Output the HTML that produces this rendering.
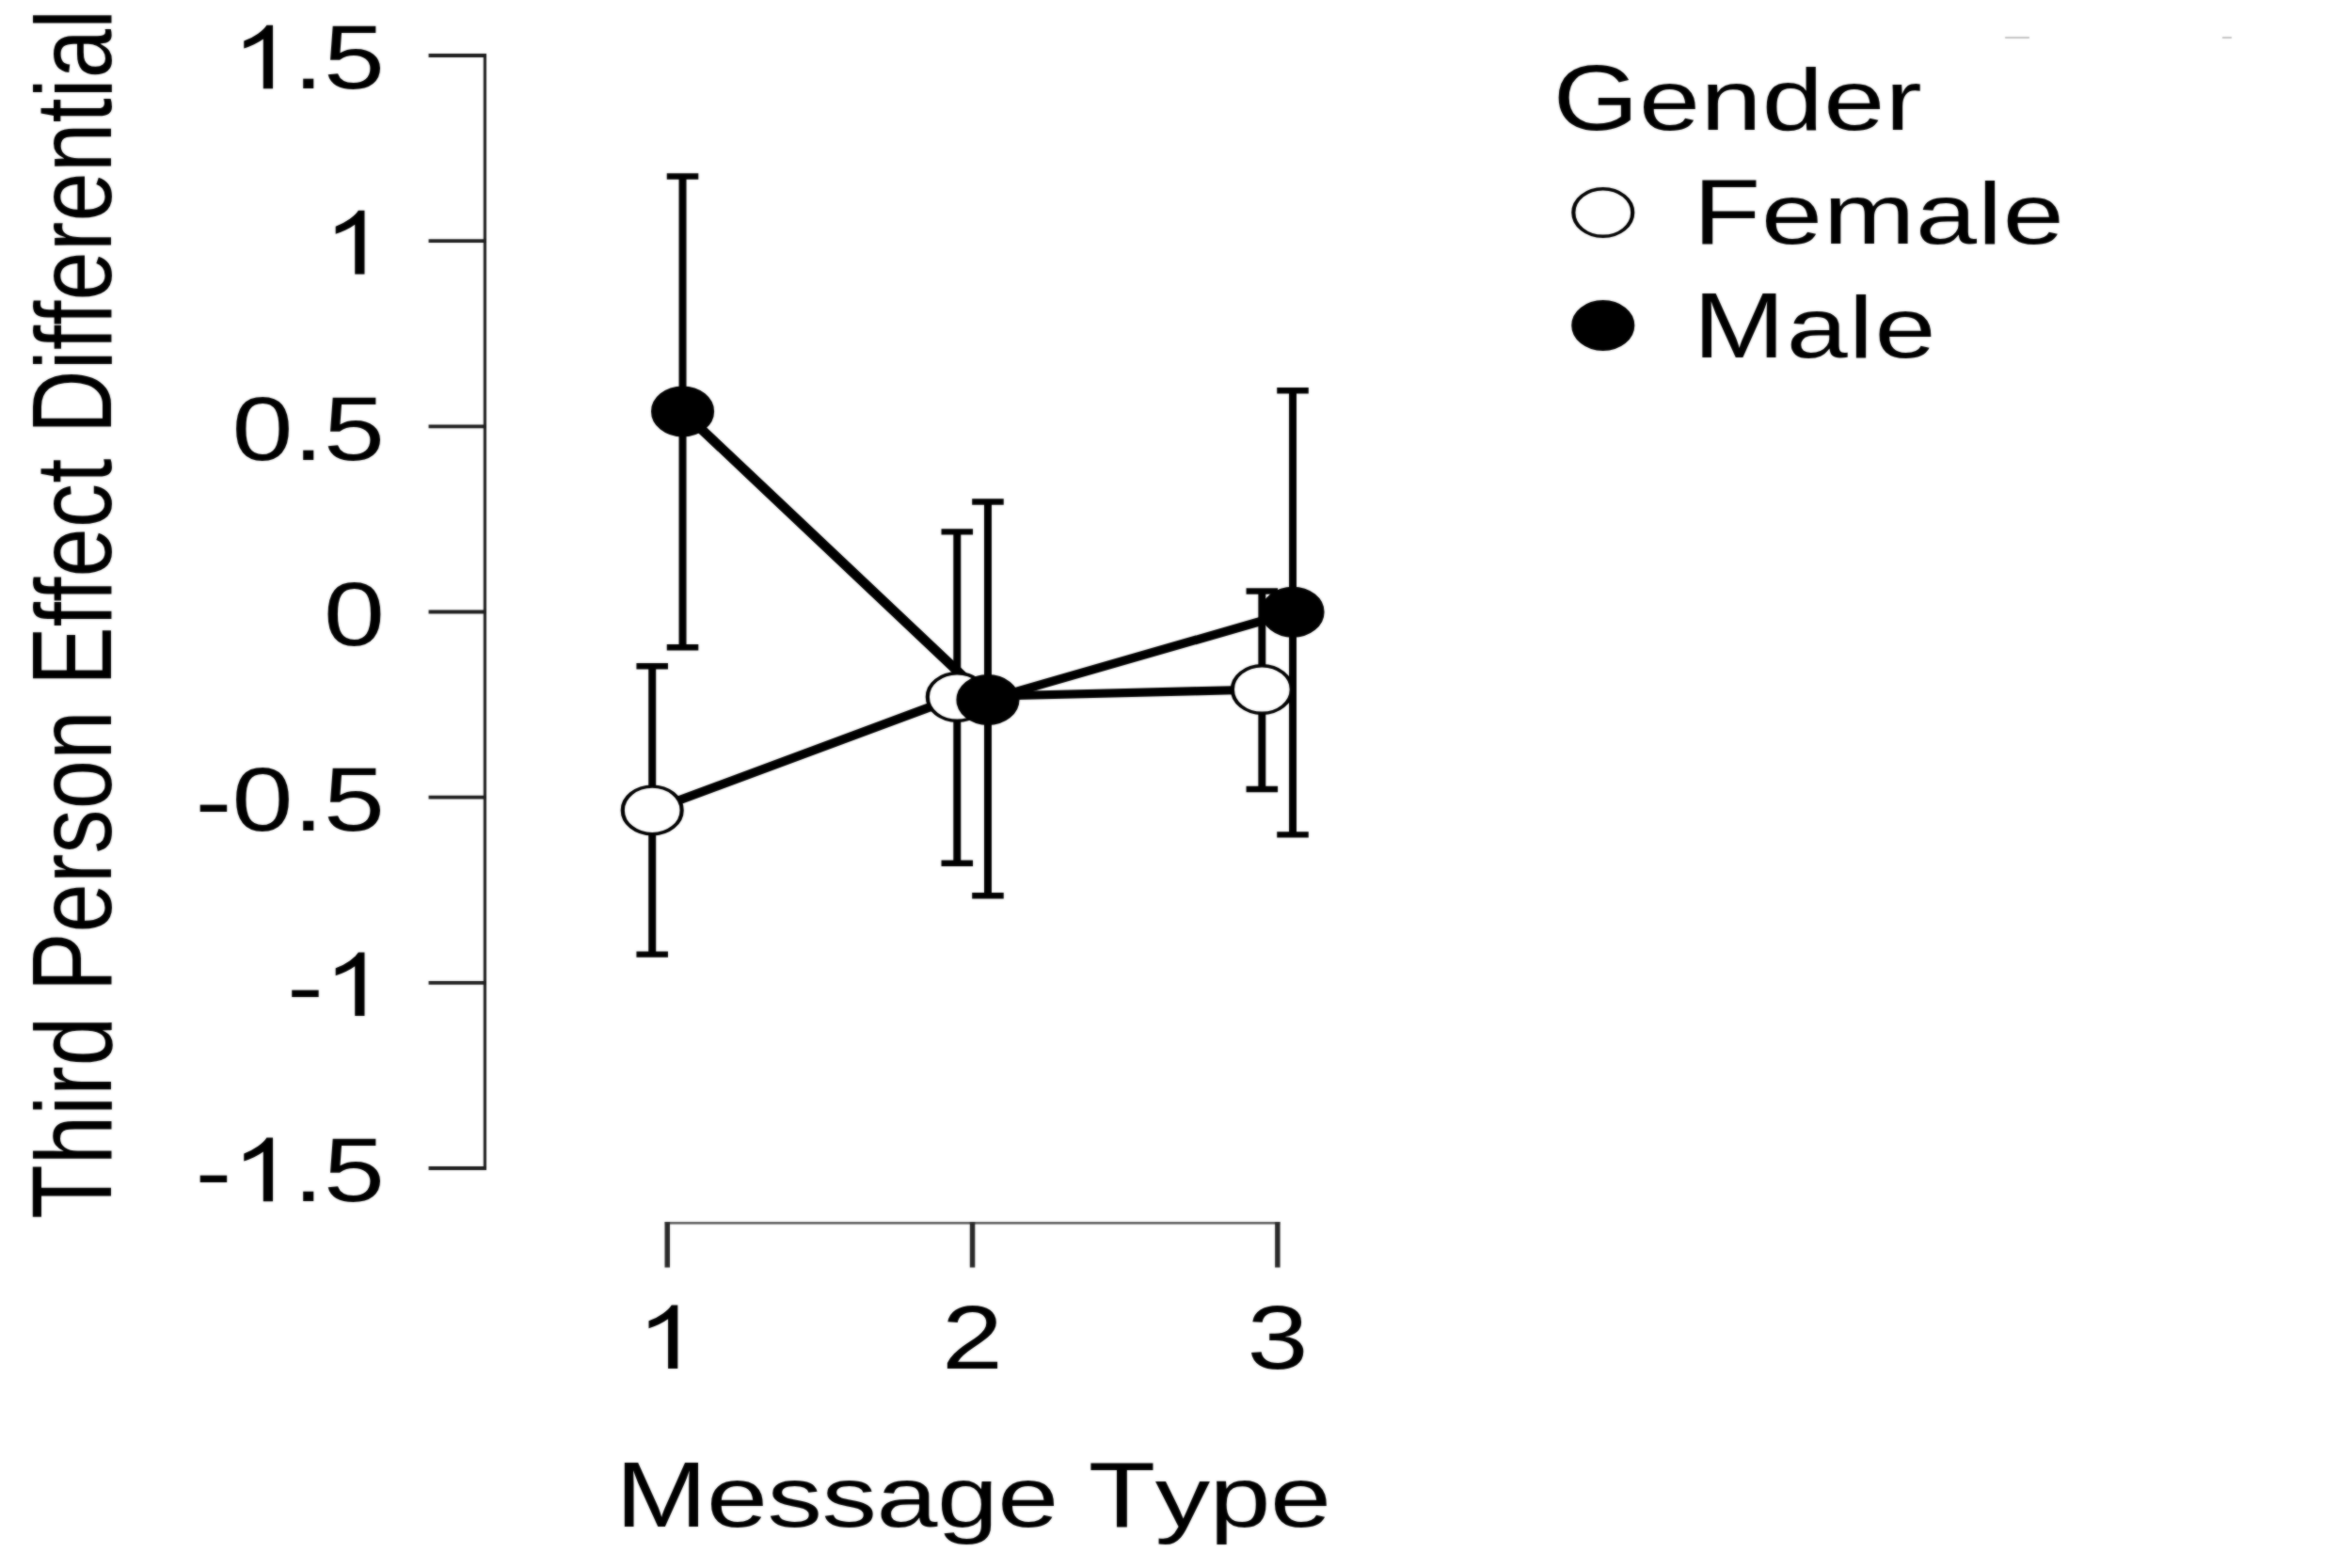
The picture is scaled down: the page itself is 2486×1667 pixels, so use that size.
<!DOCTYPE html>
<html><head><meta charset="utf-8"><title>Chart</title>
<style>
html,body{margin:0;padding:0;background:#fff;}
body{width:2486px;height:1667px;overflow:hidden;}
svg{display:block;}
text{font-family:"Liberation Sans",sans-serif;font-size:94px;fill:#000;font-variant-ligatures:none;font-kerning:none;}
</style></head><body>
<svg width="2486" height="1667" viewBox="0 0 2000.000 1667" preserveAspectRatio="none">
<defs><filter id="soft" x="-10" y="-10" width="2020" height="1687" filterUnits="userSpaceOnUse" color-interpolation-filters="sRGB">
<feGaussianBlur in="SourceGraphic" stdDeviation="0.644 0.8" result="b"/>
<feComposite in="b" in2="SourceGraphic" operator="arithmetic" k1="0" k2="0.55" k3="0.45" k4="0"/>
</filter></defs>
<g filter="url(#soft)">
<rect x="-50" y="-50" width="2100.000" height="1767" fill="#fff"/>

<g fill="none" stroke-linecap="butt">
<path d="M414.64 57.3 V1243.7" stroke="#262626" stroke-width="2.6"/>
<path d="M366.5 59.0 H415.9" stroke="#1e1e1e" stroke-width="3.8"/>
<path d="M366.5 256.2 H415.9" stroke="#1e1e1e" stroke-width="3.8"/>
<path d="M366.5 453.4 H415.9" stroke="#1e1e1e" stroke-width="3.8"/>
<path d="M366.5 650.5 H415.9" stroke="#1e1e1e" stroke-width="3.8"/>
<path d="M366.5 847.6 H415.9" stroke="#1e1e1e" stroke-width="3.8"/>
<path d="M366.5 1044.8 H415.9" stroke="#1e1e1e" stroke-width="3.8"/>
<path d="M366.5 1242.0 H415.9" stroke="#1e1e1e" stroke-width="3.8"/>
<path d="M568.6 1300.3 H1094.4" stroke="#5a5a5a" stroke-width="2.6"/>
<path d="M570.6 1299.0 V1347.5" stroke="#2a2a2a" stroke-width="4.4"/>
<path d="M831.5 1299.0 V1347.5" stroke="#2a2a2a" stroke-width="4.4"/>
<path d="M1092.4 1299.0 V1347.5" stroke="#2a2a2a" stroke-width="4.4"/>
</g>
<path d="M763 0H583V1147Q518 1085 412.5 1023T223 930V1104Q374 1175 487 1276T647 1472H763Z" transform="translate(198.33 94.25) scale(0.04590 -0.04590)" fill="#000"/>
<text transform="translate(250.61 94.25) scale(1 1.03)">.</text>
<text transform="translate(276.72 94.25) scale(1 1.03)">5</text>
<path d="M763 0H583V1147Q518 1085 412.5 1023T223 930V1104Q374 1175 487 1276T647 1472H763Z" transform="translate(276.72 291.40) scale(0.04590 -0.04590)" fill="#000"/>
<text transform="translate(198.33 488.55) scale(1 1.03)">0</text>
<text transform="translate(250.61 488.55) scale(1 1.03)">.</text>
<text transform="translate(276.72 488.55) scale(1 1.03)">5</text>
<text transform="translate(276.72 685.70) scale(1 1.03)">0</text>
<text x="167.02" y="883.55">-</text>
<text transform="translate(198.33 882.85) scale(1 1.03)">0</text>
<text transform="translate(250.61 882.85) scale(1 1.03)">.</text>
<text transform="translate(276.72 882.85) scale(1 1.03)">5</text>
<text x="245.42" y="1080.70">-</text>
<path d="M763 0H583V1147Q518 1085 412.5 1023T223 930V1104Q374 1175 487 1276T647 1472H763Z" transform="translate(276.72 1080.00) scale(0.04590 -0.04590)" fill="#000"/>
<text x="167.02" y="1277.85">-</text>
<path d="M763 0H583V1147Q518 1085 412.5 1023T223 930V1104Q374 1175 487 1276T647 1472H763Z" transform="translate(198.33 1277.15) scale(0.04590 -0.04590)" fill="#000"/>
<text transform="translate(250.61 1277.15) scale(1 1.03)">.</text>
<text transform="translate(276.72 1277.15) scale(1 1.03)">5</text>
<path d="M763 0H583V1147Q518 1085 412.5 1023T223 930V1104Q374 1175 487 1276T647 1472H763Z" transform="translate(544.50 1455.00) scale(0.04590 -0.04590)" fill="#000"/>
<text transform="translate(805.40 1455.00) scale(1 1.03)">2</text>
<text transform="translate(1066.30 1455.00) scale(1 1.03)">3</text>
<text transform="translate(526.39 1622.70) scale(1 1.04)">M</text>
<text transform="translate(604.28 1622.70) scale(1 0.965)">e</text>
<text transform="translate(656.15 1622.70) scale(1 0.965)">s</text>
<text transform="translate(702.74 1622.70) scale(1 0.965)">s</text>
<text transform="translate(749.33 1622.70) scale(1 0.965)">a</text>
<text transform="translate(801.20 1622.70) scale(1 0.965)">g</text>
<text transform="translate(853.07 1622.70) scale(1 0.965)">e</text>
<text transform="translate(930.64 1622.70) scale(1 1.04)">T</text>
<text transform="translate(987.65 1622.70) scale(1 0.965)">y</text>
<text transform="translate(1034.24 1622.70) scale(1 0.965)">p</text>
<text transform="translate(1086.11 1622.70) scale(1 0.965)">e</text>
<g transform="translate(94.9 652.8) rotate(-90)">
<text transform="translate(-643.00 0.00) scale(1 1.04)">T</text>
<text transform="translate(-585.39 0.00) scale(1 0.978)">h</text>
<text transform="translate(-532.91 0.00) scale(1 0.978)">i</text>
<text transform="translate(-511.84 0.00) scale(1 0.965)">r</text>
<text transform="translate(-480.34 0.00) scale(1 0.978)">d</text>
<text transform="translate(-401.55 0.00) scale(1 1.04)">P</text>
<text transform="translate(-338.66 0.00) scale(1 0.965)">e</text>
<text transform="translate(-286.19 0.00) scale(1 0.965)">r</text>
<text transform="translate(-254.69 0.00) scale(1 0.965)">s</text>
<text transform="translate(-207.50 0.00) scale(1 0.965)">o</text>
<text transform="translate(-155.03 0.00) scale(1 0.965)">n</text>
<text transform="translate(-76.24 0.00) scale(1 1.04)">E</text>
<text transform="translate(-13.35 0.00) scale(1 0.978)">f</text>
<text transform="translate(12.96 0.00) scale(1 0.978)">f</text>
<text transform="translate(39.27 0.00) scale(1 0.965)">e</text>
<text transform="translate(91.74 0.00) scale(1 0.965)">c</text>
<text transform="translate(138.94 0.00) scale(1 0.978)">t</text>
<text transform="translate(191.56 0.00) scale(1 1.04)">D</text>
<text transform="translate(259.64 0.00) scale(1 0.978)">i</text>
<text transform="translate(280.72 0.00) scale(1 0.978)">f</text>
<text transform="translate(307.03 0.00) scale(1 0.978)">f</text>
<text transform="translate(333.34 0.00) scale(1 0.965)">e</text>
<text transform="translate(385.81 0.00) scale(1 0.965)">r</text>
<text transform="translate(417.31 0.00) scale(1 0.965)">e</text>
<text transform="translate(469.78 0.00) scale(1 0.965)">n</text>
<text transform="translate(522.25 0.00) scale(1 0.978)">t</text>
<text transform="translate(548.57 0.00) scale(1 0.978)">i</text>
<text transform="translate(569.64 0.00) scale(1 0.965)">a</text>
<text transform="translate(622.12 0.00) scale(1 0.978)">l</text>
</g>
<path d="M1715.2 40 H1734.5 M1901.0 40 H1907.5" stroke="#c4c4c4" stroke-width="2" stroke-linecap="round" fill="none"/>
<text transform="translate(1328.00 138.30) scale(1 1.04)">G</text>
<text transform="translate(1401.47 138.30) scale(1 0.965)">e</text>
<text transform="translate(1454.10 138.30) scale(1 0.965)">n</text>
<text transform="translate(1506.73 138.30) scale(1 0.978)">d</text>
<text transform="translate(1559.37 138.30) scale(1 0.965)">e</text>
<text transform="translate(1612.00 138.30) scale(1 0.965)">r</text>
<text transform="translate(1448.00 259.00) scale(1 1.04)">F</text>
<text transform="translate(1506.09 259.00) scale(1 0.965)">e</text>
<text transform="translate(1559.04 259.00) scale(1 0.965)">m</text>
<text transform="translate(1638.02 259.00) scale(1 0.965)">a</text>
<text transform="translate(1690.97 259.00) scale(1 0.978)">l</text>
<text transform="translate(1712.52 259.00) scale(1 0.965)">e</text>
<text transform="translate(1448.00 380.00) scale(1 1.04)">M</text>
<text transform="translate(1527.46 380.00) scale(1 0.965)">a</text>
<text transform="translate(1580.89 380.00) scale(1 0.978)">l</text>
<text transform="translate(1602.92 380.00) scale(1 0.965)">e</text>
<circle cx="1370.7" cy="226" r="25.3" fill="#fff" stroke="#000" stroke-width="3.4"/>
<circle cx="1370.7" cy="346" r="25.3" fill="#000" stroke="#000" stroke-width="3.4"/>
<path d="M557.7 861.4 L818.4 741 L1079.1 733" stroke="#000" stroke-width="9.2" fill="none" stroke-linejoin="round"/>
<path d="M583.7 437.4 L844.7 744 L1105.4 650.7" stroke="#000" stroke-width="9.2" fill="none" stroke-linejoin="round"/>
<g stroke="#000" stroke-width="6.4" fill="none">
<path d="M544.2 708.2 H571.2 M557.7 708.2 V1014.6 M544.2 1014.6 H571.2"/>
<path d="M804.9 565.4 H831.9 M818.4 565.4 V917.7 M804.9 917.7 H831.9"/>
<path d="M1065.6 628.5 H1092.6 M1079.1 628.5 V839 M1065.6 839 H1092.6"/>
<path d="M570.2 187.5 H597.2 M583.7 187.5 V688.3 M570.2 688.3 H597.2"/>
<path d="M831.2 533.5 H858.2 M844.7 533.5 V952.2 M831.2 952.2 H858.2"/>
<path d="M1091.9 415.2 H1118.9 M1105.4 415.2 V887.4 M1091.9 887.4 H1118.9"/>
</g>
<circle cx="557.7" cy="861.4" r="25.3" fill="#fff" stroke="#000" stroke-width="3.4"/>
<circle cx="818.4" cy="741" r="25.3" fill="#fff" stroke="#000" stroke-width="3.4"/>
<circle cx="1079.1" cy="733" r="25.3" fill="#fff" stroke="#000" stroke-width="3.4"/>
<circle cx="583.7" cy="437.4" r="25.3" fill="#000" stroke="#000" stroke-width="3.4"/>
<circle cx="844.7" cy="744" r="25.3" fill="#000" stroke="#000" stroke-width="3.4"/>
<circle cx="1105.4" cy="650.7" r="25.3" fill="#000" stroke="#000" stroke-width="3.4"/>
</g></svg></body></html>
